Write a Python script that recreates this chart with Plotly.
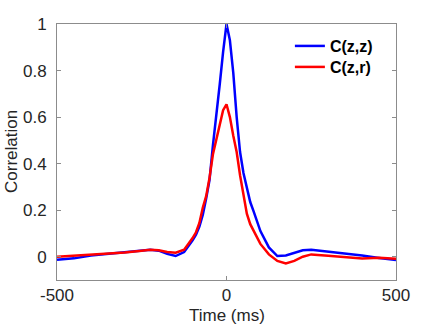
import plotly.graph_objects as go

# lag times (ms) and correlation values
time_ms = [-500, -450, -400, -350, -300, -250, -225, -200, -175, -150, -125, -100,
           -90, -80, -70, -60, -50, -40, -30, -20, -10, 0, 10, 20, 30, 40, 50, 60,
           70, 80, 90, 100, 125, 150, 175, 200, 225, 250, 300, 350, 400, 450, 500]
c_zz = [-0.013, -0.007, 0.005, 0.012, 0.018, 0.027, 0.030, 0.026, 0.012, 0.003, 0.02, 0.07,
        0.095, 0.13, 0.18, 0.25, 0.33, 0.48, 0.60, 0.74, 0.88, 1.0, 0.93, 0.79, 0.60, 0.45, 0.36, 0.29,
        0.235, 0.195, 0.15, 0.11, 0.04, 0.003, 0.005, 0.018, 0.028, 0.03, 0.022, 0.015, 0.005, -0.005, -0.014]
c_zr = [0.0, 0.004, 0.009, 0.013, 0.018, 0.026, 0.030, 0.028, 0.02, 0.017, 0.03, 0.08,
        0.105, 0.145, 0.21, 0.26, 0.34, 0.44, 0.50, 0.57, 0.63, 0.655, 0.60, 0.52, 0.45, 0.35, 0.27, 0.185,
        0.14, 0.11, 0.08, 0.055, 0.01, -0.018, -0.029, -0.018, 0.0, 0.01, 0.004, -0.001, -0.008, -0.004, -0.009]

x_ticks = [-500, 0, 500]
x_labels = ["-500", "0", "500"]
y_ticks = [0, 0.2, 0.4, 0.6, 0.8, 1]
y_labels = ["0", "0.2", "0.4", "0.6", "0.8", "1"]

TEXT = "#262626"
AXIS = "#8c8c8c"

fig = go.Figure()
fig.add_trace(go.Scatter(x=time_ms, y=c_zz, mode="lines", name="C(z,z)", legend="legend",
                         showlegend=True, line={"color": "#0000ff", "width": 2.5}))
fig.add_trace(go.Scatter(x=time_ms, y=c_zr, mode="lines", name="C(z,r)", legend="legend2",
                         showlegend=True, line={"color": "#ff0000", "width": 2.5}))

axis_common = dict(
    showgrid=False, zeroline=False, showline=True, linecolor=AXIS, linewidth=1,
    mirror="ticks", ticks="inside", ticklen=4, tickcolor=AXIS,
    tickfont={"size": 17, "color": TEXT}, automargin=False,
)
fig.update_xaxes(range=[-500, 500], tickvals=x_ticks, ticktext=x_labels, ticklabelstandoff=0,
                 **axis_common)
fig.update_yaxes(range=[-0.1, 1], tickvals=y_ticks, ticktext=y_labels, ticklabelstandoff=6,
                 **axis_common)

# axis titles as annotations so they sit where the reference has them
fig.add_annotation(text="Time (ms)", xref="paper", yref="paper", x=0.5, y=0,
                   yanchor="middle", yshift=-35, showarrow=False,
                   font={"size": 17, "color": TEXT})
fig.add_annotation(text="Correlation", xref="paper", yref="paper", x=0, y=0.5,
                   xanchor="center", xshift=-46, textangle=-90, showarrow=False,
                   font={"size": 17, "color": TEXT})

leg = dict(x=0.687, xanchor="left", yanchor="middle", bgcolor="rgba(255,255,255,0)",
           font={"size": 16, "color": "black", "weight": "bold"})
fig.update_layout(
    width=438, height=328,
    showlegend=True,
    paper_bgcolor="white", plot_bgcolor="white",
    font={"family": "Liberation Sans, Arial, sans-serif", "color": TEXT},
    margin={"l": 57, "r": 42, "t": 24, "b": 48},
    legend={**leg, "y": 0.914},
    legend2={**leg, "y": 0.832},
)

fig.write_html("out.html", config={"displayModeBar": False},
               post_script="document.body.style.margin='0';")
